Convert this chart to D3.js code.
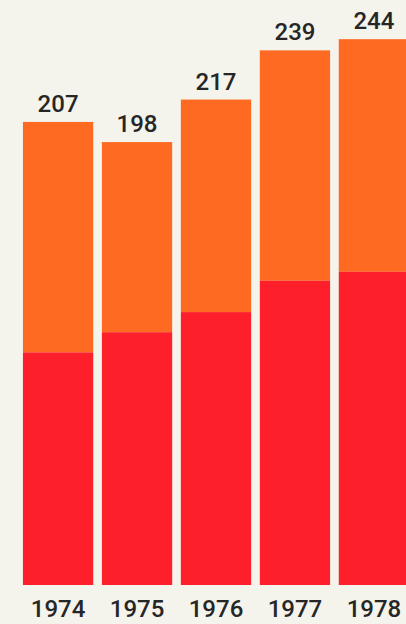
<!DOCTYPE html>
<html>
<head>
<meta charset="utf-8">
<script src="https://cdn.jsdelivr.net/npm/d3@7"></script>
<style>
html,body{margin:0;padding:0;background:#f4f3ec;}
svg{display:block;}
</style>
</head>
<body>
<svg id="chart" width="406" height="624"></svg>
<script>
const years = ["1974", "1975", "1976", "1977", "1978"];
const totals = [207, 198, 217, 239, 244];
const lowerValues = [104, 113, 122, 136, 140];

const W = 406, H = 624;
const svg = d3.select("#chart");
svg.append("rect").attr("width", W).attr("height", H).attr("fill", "#f4f3ec");

const x = d3.scaleBand().domain(years).range([19, 413]).paddingInner(0.11).paddingOuter(0.05);
const y = d3.scaleLinear().domain([0, 250]).range([585, 585 - 250 * 2.237]);

const data = years.map((yr, i) => ({ year: yr, total: totals[i], lower: lowerValues[i] }));

// upper (orange) segment
svg.selectAll("rect.upper").data(data).enter().append("rect")
  .attr("class", "upper")
  .attr("x", d => x(d.year))
  .attr("width", x.bandwidth())
  .attr("y", d => y(d.total))
  .attr("height", d => y(d.lower) - y(d.total))
  .attr("fill", "#ff6a22");

// lower (red) segment
svg.selectAll("rect.lower").data(data).enter().append("rect")
  .attr("class", "lower")
  .attr("x", d => x(d.year))
  .attr("width", x.bandwidth())
  .attr("y", d => y(d.lower))
  .attr("height", d => y(0) - y(d.lower))
  .attr("fill", "#fd1f2a");

const font = "Roboto, Liberation Sans, Arial, sans-serif";

// value labels
svg.selectAll("text.val").data(data).enter().append("text")
  .attr("class", "val")
  .attr("x", d => x(d.year) + x.bandwidth() / 2)
  .attr("y", d => y(d.total) - 10)
  .attr("text-anchor", "middle")
  .attr("font-family", font)
  .attr("font-weight", 500)
  .attr("font-size", 24)
  .attr("fill", "#262626")
  .text(d => d.total);

// x axis labels
const xAxis = d3.axisBottom(x).tickSize(0).tickPadding(0);
const gx = svg.append("g").attr("transform", "translate(0,585)").call(xAxis);
gx.select(".domain").remove();
gx.selectAll("text")
  .attr("y", 32)
  .attr("dy", 0)
  .attr("font-family", font)
  .attr("font-weight", 500)
  .attr("font-size", 24)
  .attr("fill", "#262626");
</script>
</body>
</html>
